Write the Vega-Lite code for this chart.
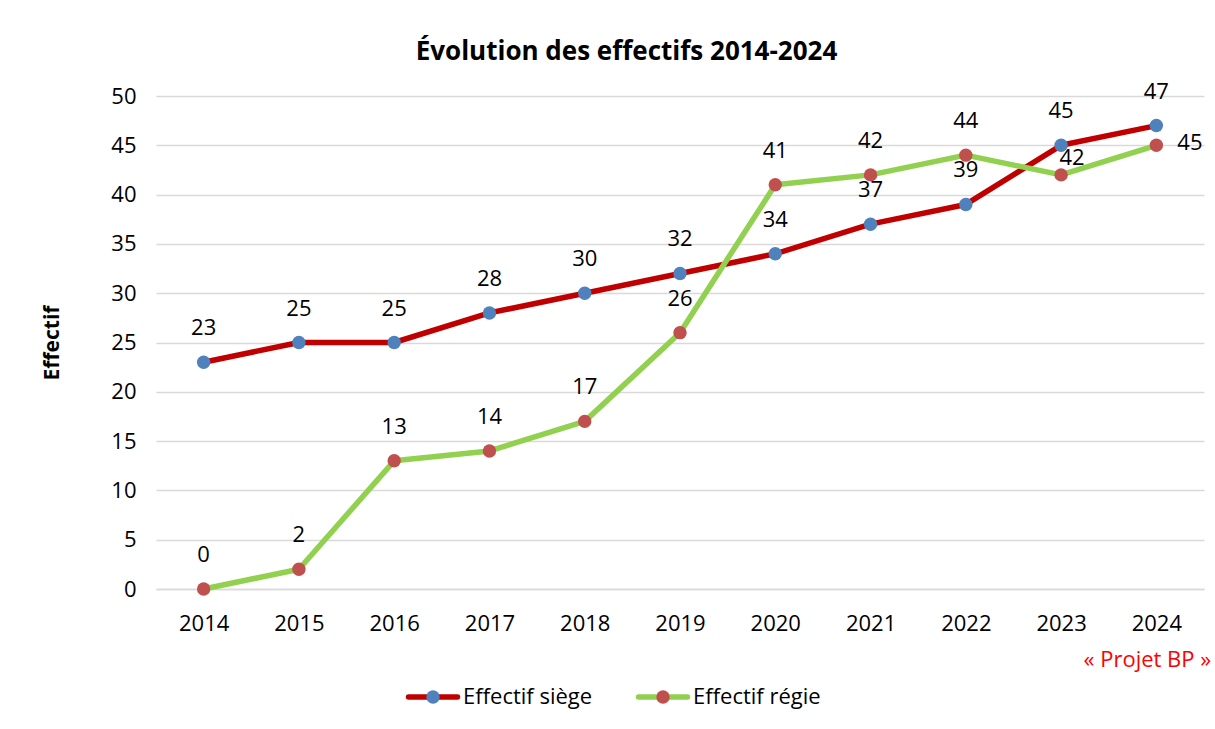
{
  "$schema": "https://vega.github.io/schema/vega-lite/v6.json",
  "background": "white",
  "padding": {"left": 41, "top": 38, "right": 0, "bottom": 5},
  "config": {
    "font": "Open Sans",
    "view": {"stroke": null},
    "concat": {"spacing": 15}
  },
  "title": {
    "text": "Évolution des effectifs 2014-2024",
    "fontSize": 26,
    "fontWeight": "bold",
    "color": "#000000",
    "font": "Open Sans",
    "anchor": "middle",
    "offset": 16
  },
  "datasets": {
    "effectifs": [
      {"year": "2014", "series": "Effectif siège", "value": 23},
      {"year": "2015", "series": "Effectif siège", "value": 25},
      {"year": "2016", "series": "Effectif siège", "value": 25},
      {"year": "2017", "series": "Effectif siège", "value": 28},
      {"year": "2018", "series": "Effectif siège", "value": 30},
      {"year": "2019", "series": "Effectif siège", "value": 32},
      {"year": "2020", "series": "Effectif siège", "value": 34},
      {"year": "2021", "series": "Effectif siège", "value": 37},
      {"year": "2022", "series": "Effectif siège", "value": 39},
      {"year": "2023", "series": "Effectif siège", "value": 45},
      {"year": "2024", "series": "Effectif siège", "value": 47},
      {"year": "2014", "series": "Effectif régie", "value": 0},
      {"year": "2015", "series": "Effectif régie", "value": 2},
      {"year": "2016", "series": "Effectif régie", "value": 13},
      {"year": "2017", "series": "Effectif régie", "value": 14},
      {"year": "2018", "series": "Effectif régie", "value": 17},
      {"year": "2019", "series": "Effectif régie", "value": 26},
      {"year": "2020", "series": "Effectif régie", "value": 41},
      {"year": "2021", "series": "Effectif régie", "value": 42},
      {"year": "2022", "series": "Effectif régie", "value": 44},
      {"year": "2023", "series": "Effectif régie", "value": 42},
      {"year": "2024", "series": "Effectif régie", "value": 45}
    ],
    "legende": [
      {"series": "Effectif siège"},
      {"series": "Effectif régie"}
    ],
    "annotation": [
      {"year": "2024", "label": "« Projet BP »"}
    ]
  },
  "vconcat": [
    {
      "width": 1048,
      "height": 493,
      "data": {"name": "effectifs"},
      "encoding": {
        "x": {
          "field": "year",
          "type": "ordinal",
          "scale": {"type": "point", "padding": 0.5},
          "axis": {
            "title": null,
            "labelAngle": 0,
            "labelFontSize": 22,
            "labelColor": "#000000",
            "labelPadding": 24,
            "ticks": false,
            "domain": true,
            "domainColor": "#d9d9d9",
            "domainWidth": 1.5,
            "grid": false
          }
        },
        "y": {
          "field": "value",
          "type": "quantitative",
          "scale": {"domain": [0, 50], "nice": false},
          "axis": {
            "title": "Effectif",
            "titleFontSize": 21,
            "titleFontWeight": "bold",
            "titleColor": "#000000",
            "titlePadding": 48,
            "values": [0, 5, 10, 15, 20, 25, 30, 35, 40, 45, 50],
            "labelFontSize": 22,
            "labelColor": "#000000",
            "labelPadding": 20,
            "ticks": false,
            "domain": false,
            "grid": true,
            "gridColor": "#d9d9d9",
            "gridWidth": 1.5
          }
        }
      },
      "layer": [
        {
          "transform": [{"filter": "datum.series == 'Effectif siège'"}],
          "mark": {"type": "line", "color": "#C00000", "strokeWidth": 5.5, "strokeJoin": "round", "strokeCap": "round"}
        },
        {
          "transform": [{"filter": "datum.series == 'Effectif siège'"}],
          "mark": {"type": "point", "shape": "circle", "filled": true, "opacity": 1, "size": 180, "color": "#4F81BD"}
        },
        {
          "transform": [{"filter": "datum.series == 'Effectif régie'"}],
          "mark": {"type": "line", "color": "#92D050", "strokeWidth": 5.5, "strokeJoin": "round", "strokeCap": "round"}
        },
        {
          "transform": [{"filter": "datum.series == 'Effectif régie'"}],
          "mark": {"type": "point", "shape": "circle", "filled": true, "opacity": 1, "size": 180, "color": "#C0504D"}
        },
        {
          "transform": [{"filter": "!(datum.series == 'Effectif régie' && (datum.year == '2023' || datum.year == '2024'))"}],
          "mark": {"type": "text", "fontSize": 22, "color": "#000000", "baseline": "middle", "align": "center", "dy": -34},
          "encoding": {"text": {"field": "value", "type": "quantitative"}}
        },
        {
          "transform": [{"filter": "datum.series == 'Effectif régie' && datum.year == '2023'"}],
          "mark": {"type": "text", "fontSize": 22, "color": "#000000", "baseline": "middle", "align": "center", "dx": 11, "dy": -17},
          "encoding": {"text": {"field": "value", "type": "quantitative"}}
        },
        {
          "transform": [{"filter": "datum.series == 'Effectif régie' && datum.year == '2024'"}],
          "mark": {"type": "text", "fontSize": 22, "color": "#000000", "baseline": "middle", "align": "left", "dx": 21, "dy": -2},
          "encoding": {"text": {"field": "value", "type": "quantitative"}}
        }
      ]
    },
    {
      "width": 1048,
      "height": 22,
      "data": {"name": "annotation"},
      "mark": {"type": "text", "fontSize": 22, "color": "#FF0000", "baseline": "middle", "align": "center", "dx": -9},
      "encoding": {
        "x": {
          "field": "year",
          "type": "ordinal",
          "scale": {"type": "point", "padding": 0.5, "domain": ["2014", "2015", "2016", "2017", "2018", "2019", "2020", "2021", "2022", "2023", "2024"]},
          "axis": null
        },
        "text": {"field": "label", "type": "nominal"}
      }
    },
    {
      "width": 700,
      "height": 14,
      "data": {"name": "legende"},
      "encoding": {
        "x": {
          "field": "series",
          "type": "nominal",
          "scale": {"type": "point", "padding": 0, "domain": ["Effectif siège", "Effectif régie"], "range": [277, 507]},
          "axis": null
        }
      },
      "layer": [
        {
          "mark": {"type": "point", "shape": "M-1,0L1,0", "filled": false, "opacity": 1, "strokeWidth": 5.5, "strokeCap": "round", "size": 2400},
          "encoding": {
            "stroke": {
              "field": "series",
              "type": "nominal",
              "scale": {"domain": ["Effectif siège", "Effectif régie"], "range": ["#C00000", "#92D050"]},
              "legend": null
            }
          }
        },
        {
          "mark": {"type": "point", "shape": "circle", "filled": true, "opacity": 1, "size": 180},
          "encoding": {
            "fill": {
              "field": "series",
              "type": "nominal",
              "scale": {"domain": ["Effectif siège", "Effectif régie"], "range": ["#4F81BD", "#C0504D"]},
              "legend": null
            }
          }
        },
        {
          "mark": {"type": "text", "fontSize": 22, "color": "#000000", "baseline": "middle", "align": "left", "dx": 30},
          "encoding": {"text": {"field": "series", "type": "nominal"}}
        }
      ]
    }
  ]
}
